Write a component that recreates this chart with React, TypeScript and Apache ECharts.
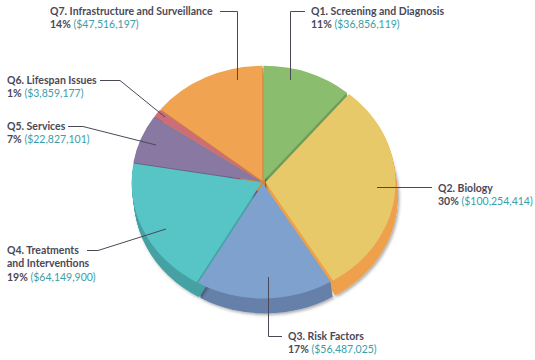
import React, { useEffect, useRef } from "react";
import * as echarts from "echarts";

// ---- data ----
const categories = [
  "Q1. Screening and Diagnosis",
  "Q2. Biology",
  "Q3. Risk Factors",
  "Q4. Treatments\nand Interventions",
  "Q5. Services",
  "Q6. Lifespan Issues",
  "Q7. Infrastructure and Surveillance",
];
const amounts = [36856119, 100254414, 56487025, 64149900, 22827101, 3859177, 47516197];

// ---- styles ----
const topColors = ["#8bbd6e", "#e8c96a", "#7ea1cd", "#57c4c5", "#8878a2", "#cc6e78", "#f0a451"];
const sideColors = ["#6f9c58", "#eea04c", "#6680a9", "#47a2a3", "#6f618a", "#a9555e", "#d3893d"];
const TEXT = "#4a4857";
const VALUE = "#3a9ea6";
const FONT = "Lato";

// ---- layout ----
const CX = 263;
const CY = 182;
const RX = 130;
const RY = 115;
const DEPTH = 15;
const SKEW = 0.15;
const explode = [1.5, 2.5, 1.5, 1.5, 1.5, 1.5, 1.5];
const labelPos: number[][] = [
  [311, 11],
  [438, 188],
  [288, 336],
  [7, 250],
  [7, 126],
  [7, 80],
  [50, 11],
];
const leaderLines: number[][][] = [
  [[305, 11.5], [290.5, 11.5], [290.5, 80]],
  [[432, 187.5], [377, 187.5]],
  [[282, 336.5], [268.5, 336.5], [268.5, 277]],
  [[87, 250.5], [98, 250.5], [166, 229]],
  [[68, 126.5], [83, 126.5], [156, 145]],
  [[100, 80.5], [120, 80.5], [165, 117]],
  [[220, 11.5], [237.5, 11.5], [237.5, 80]],
];

const total = amounts.reduce((s, v) => s + v, 0);

function sliceAngles(i: number, v: number) {
  let before = 0;
  for (let j = 0; j < i; j++) before += amounts[j];
  const a0 = -Math.PI / 2 + (before / total) * Math.PI * 2;
  const a1 = a0 + (v / total) * Math.PI * 2;
  return [a0, a1];
}

function sector(i: number, v: number, d: number, fill: string, extra: any = {}) {
  const [a0, a1] = sliceAngles(i, v);
  const mid = (a0 + a1) / 2;
  const ex = explode[i] * Math.cos(mid);
  const ey = explode[i] * Math.sin(mid) * (RY / RX);
  return {
    type: "sector",
    shape: { cx: CX, cy: CY, r: RX, r0: 0, startAngle: a0, endAngle: a1, clockwise: true },
    originX: CX,
    originY: CY,
    scaleY: RY / RX,
    x: ex + d * SKEW,
    y: ey + d,
    style: { fill, ...extra },
  };
}

const fmtMoney = (v: number) => "$" + v.toLocaleString("en-US");

const option: any = {
  animation: false,
  backgroundColor: "#ffffff",
  series: [
    {
      type: "custom",
      coordinateSystem: "none",
      z: 1,
      silent: true,
      data: amounts.map((v, i) => ({ value: v, name: categories[i] })),
      renderItem: (params: any, api: any) => {
        const i = params.dataIndex;
        const v = api.value(0);
        const children: any[] = [];
        for (let d = DEPTH; d >= 1; d--) {
          const extra =
            d === DEPTH
              ? { shadowBlur: 3, shadowColor: "rgba(0,0,0,0.35)", shadowOffsetX: 1.5, shadowOffsetY: 1.5 }
              : {};
          children.push(sector(i, v, d, sideColors[i], extra));
        }
        return { type: "group", children };
      },
    },
    {
      type: "custom",
      coordinateSystem: "none",
      z: 2,
      silent: true,
      data: amounts.map((v, i) => ({ value: v, name: categories[i] })),
      renderItem: (params: any, api: any) => {
        const i = params.dataIndex;
        const v = api.value(0);
        const pct = Math.round((v / total) * 100) + "%";
        const [lx, ly] = labelPos[i];
        return {
          type: "group",
          children: [
            sector(i, v, 0, topColors[i]),
            {
              type: "polyline",
              z2: 5,
              shape: { points: leaderLines[i] },
              style: { stroke: TEXT, lineWidth: 1, fill: null },
            },
            {
              type: "text",
              z2: 6,
              x: lx,
              y: ly - 7,
              style: {
                text: `{n|${categories[i]}}\n{p|${pct}} {v|(${fmtMoney(v)})}`,
                fontFamily: FONT,
                fontSize: 10.5,
                fill: TEXT,
                align: "left",
                verticalAlign: "top",
                rich: {
                  n: { fontFamily: FONT, fontSize: 10.5, fontWeight: "bold", fill: TEXT, lineHeight: 13.5 },
                  p: { fontFamily: FONT, fontSize: 10.5, fontWeight: "bold", fill: TEXT, lineHeight: 13.5 },
                  v: { fontFamily: FONT, fontSize: 10.5, fill: VALUE, lineHeight: 13.5 },
                },
              },
            },
          ],
        };
      },
    },
  ],
};

export default function App() {
  const ref = useRef<HTMLDivElement>(null);
  useEffect(() => {
    const chart = echarts.init(ref.current!, null, { renderer: "svg" });
    chart.setOption(option);
    return () => chart.dispose();
  }, []);
  return (
    <div
      ref={ref}
      style={{ position: "fixed", left: 0, top: 0, width: 535, height: 360, background: "#fff" }}
    />
  );
}
